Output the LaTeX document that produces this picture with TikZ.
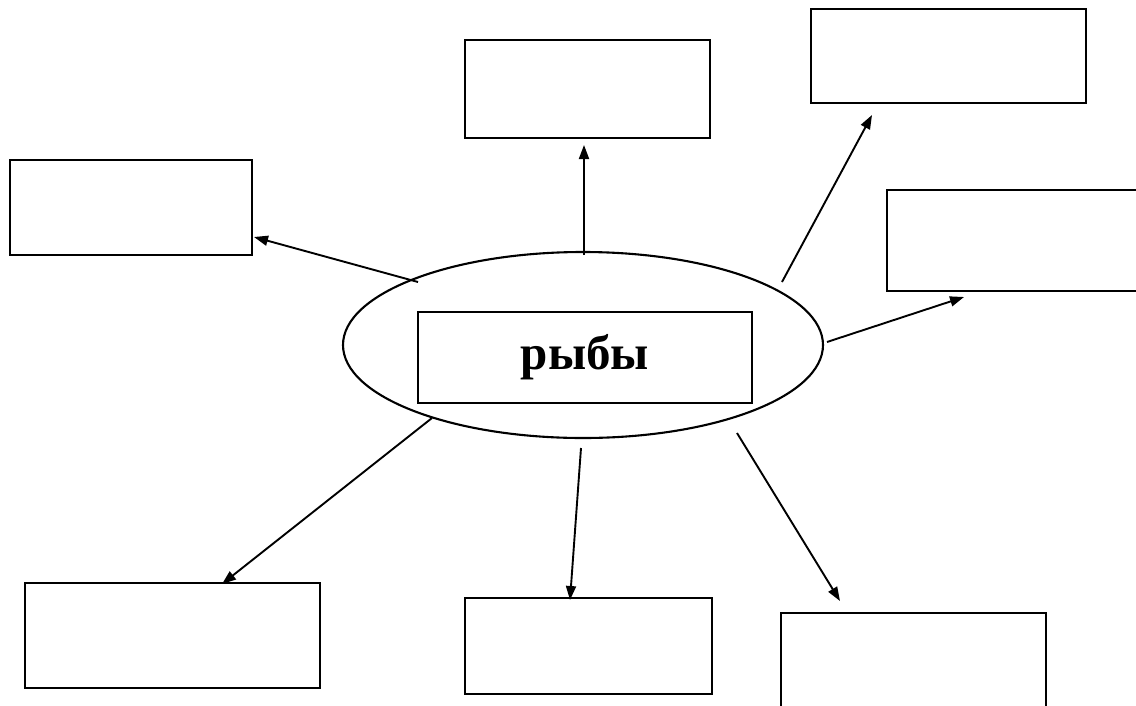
\documentclass[tikz,border=0pt]{standalone}
\usepackage{fontspec}
\setmainfont{Liberation Serif}
\usetikzlibrary{shapes.geometric,arrows.meta}
\begin{document}
\begin{tikzpicture}[x=1pt,y=-1pt,
  box/.style={draw,line width=2.3pt,inner sep=0pt},
  conn/.style={line width=1.9pt,-{Triangle[length=14pt,width=10pt]}}]
\clip (0,0) rectangle (1136,705);
\fill[white] (0,0) rectangle (1136,705);
% outer boxes
\node[box,minimum width=245pt,minimum height=98pt] (tc) at (587.5,89) {};
\node[box,minimum width=275pt,minimum height=94pt] (tr) at (948.5,56) {};
\node[box,minimum width=242pt,minimum height=95pt] (lb) at (131,207.5) {};
\node[box,minimum width=258pt,minimum height=101pt] (rb) at (1016,240.5) {};
\node[box,minimum width=295pt,minimum height=105pt] (bl) at (172.5,635.5) {};
\node[box,minimum width=247pt,minimum height=96pt] (bc) at (588.5,646) {};
\node[box,minimum width=265pt,minimum height=99pt] (br) at (913.5,662.5) {};
% centre
\node[draw,ellipse,line width=2.1pt,inner sep=0pt,minimum width=480pt,minimum height=186pt] (el) at (583,345) {};
\node[box,minimum width=334pt,minimum height=91pt,font=\bfseries\fontsize{49}{56}\selectfont] (fish) at (585,357.5) {рыбы};
% connector ends
\coordinate (s1) at (584,255); \coordinate (t1) at (584,145);
\coordinate (s2) at (418,282); \coordinate (t2) at (254,237);
\coordinate (s3) at (782,282); \coordinate (t3) at (872,115);
\coordinate (s4) at (827,342); \coordinate (t4) at (964,297);
\coordinate (s5) at (432,418); \coordinate (t5) at (222,584);
\coordinate (s6) at (581,448); \coordinate (t6) at (570,600);
\coordinate (s7) at (737,433); \coordinate (t7) at (840,601);
\draw[conn] (s1) -- (t1);
\draw[conn] (s2) -- (t2);
\draw[conn] (s3) -- (t3);
\draw[conn] (s4) -- (t4);
\draw[conn] (s5) -- (t5);
\draw[conn] (s6) -- (t6);
\draw[conn] (s7) -- (t7);
\end{tikzpicture}
\end{document}
